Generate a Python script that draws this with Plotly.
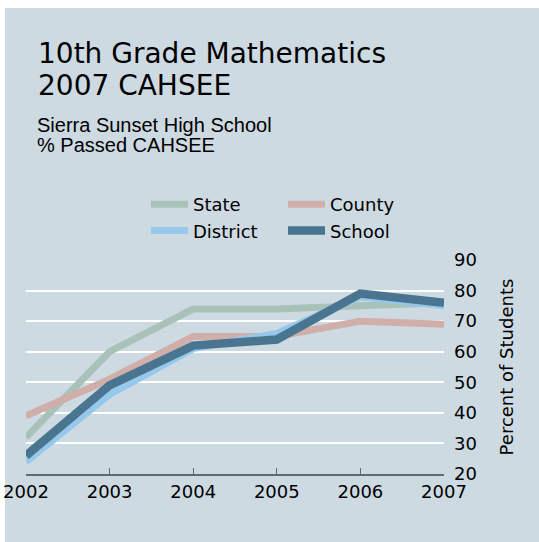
import plotly.graph_objects as go

years = [2002, 2003, 2004, 2005, 2006, 2007]
state = [32, 60, 74, 74, 75, 76]
county = [39, 51, 65, 65, 70, 69]
district = [24, 46, 61, 66, 78, 75]
school = [26, 49, 62, 64, 79, 76]

series_names = ["State", "County", "District", "School"]
series_values = [state, county, district, school]
series_colors = ["#a9c2b9", "#d0aeaa", "#95c8ea", "#4a7590"]
series_widths = [7, 7, 7, 8.5]
series_legend = ["legend", "legend2", "legend", "legend2"]

title_lines = ["10th Grade Mathematics", "2007 CAHSEE"]
subtitle_lines = ["Sierra Sunset High School", "% Passed CAHSEE"]

W, H = 539, 542
L, R, T, B = 26, 95, 260, 68
pw, ph = W - L - R, H - T - B

FONT = "DejaVu Sans"


def px_x(p):
    return (p - L) / pw


def px_y(p):
    return (T + ph - p) / ph


fig = go.Figure()
for name, vals, col, w, lg in zip(series_names, series_values, series_colors, series_widths, series_legend):
    fig.add_trace(go.Scatter(x=years, y=vals, name=name, mode="lines",
                             line=dict(color=col, width=w), legend=lg, yaxis="y"))

# dummy trace to show yaxis2 labels
fig.add_trace(go.Scatter(x=[years[0]], y=[None], yaxis="y2", showlegend=False, hoverinfo="skip"))

# panel background
fig.add_shape(type="rect", xref="paper", yref="paper", layer="below",
              x0=px_x(5), x1=px_x(545), y0=px_y(548), y1=px_y(8),
              fillcolor="#cedae2", line=dict(width=0))

fig.update_layout(
    width=W, height=H,
    margin=dict(l=L, r=R, t=T, b=B),
    paper_bgcolor="white", plot_bgcolor="rgba(0,0,0,0)",
    font=dict(family=FONT, size=18, color="black"),
    xaxis=dict(range=[2002, 2007], tickvals=years, ticks="inside", ticklen=6,
               tickcolor="#606a70", showline=True, linecolor="#606a70", linewidth=2,
               showgrid=False, zeroline=False, tickfont=dict(size=18), automargin=False),
    yaxis=dict(range=[20, 90], side="right", tickvals=[20, 30, 40, 50, 60, 70, 80],
               showgrid=True, gridcolor="white", gridwidth=2, showticklabels=False,
               zeroline=False, automargin=False),
    yaxis2=dict(range=[20, 90], side="right", overlaying="y",
                tickvals=[20, 30, 40, 50, 60, 70, 80, 90], showgrid=False,
                zeroline=False, ticks="", ticklabelstandoff=9, automargin=False,
                title=dict(text="Percent of Students", font=dict(size=18), standoff=24)),
    showlegend=True,
    legend=dict(x=px_x(146), xanchor="left", y=px_y(186), yanchor="top", itemwidth=37,
                bgcolor="rgba(0,0,0,0)", font=dict(size=18), tracegroupgap=0),
    legend2=dict(x=px_x(283), xanchor="left", y=px_y(186), yanchor="top", itemwidth=37,
                 bgcolor="rgba(0,0,0,0)", font=dict(size=18), tracegroupgap=0),
)

for txt, top in zip(title_lines, [34.7, 67.3]):
    fig.add_annotation(text=txt, xref="paper", yref="paper",
                       x=px_x(36), y=px_y(top), xanchor="left", yanchor="top",
                       align="left", showarrow=False, font=dict(size=28, family=FONT))
for txt, top in zip(subtitle_lines, [111.6, 131.6]):
    fig.add_annotation(text=txt, xref="paper", yref="paper",
                       x=px_x(35), y=px_y(top), xanchor="left", yanchor="top",
                       align="left", showarrow=False, font=dict(size=20, family="Liberation Sans"))

fig.write_html("out.html", config={"displayModeBar": False},
               post_script="document.body.style.margin='0px';")
